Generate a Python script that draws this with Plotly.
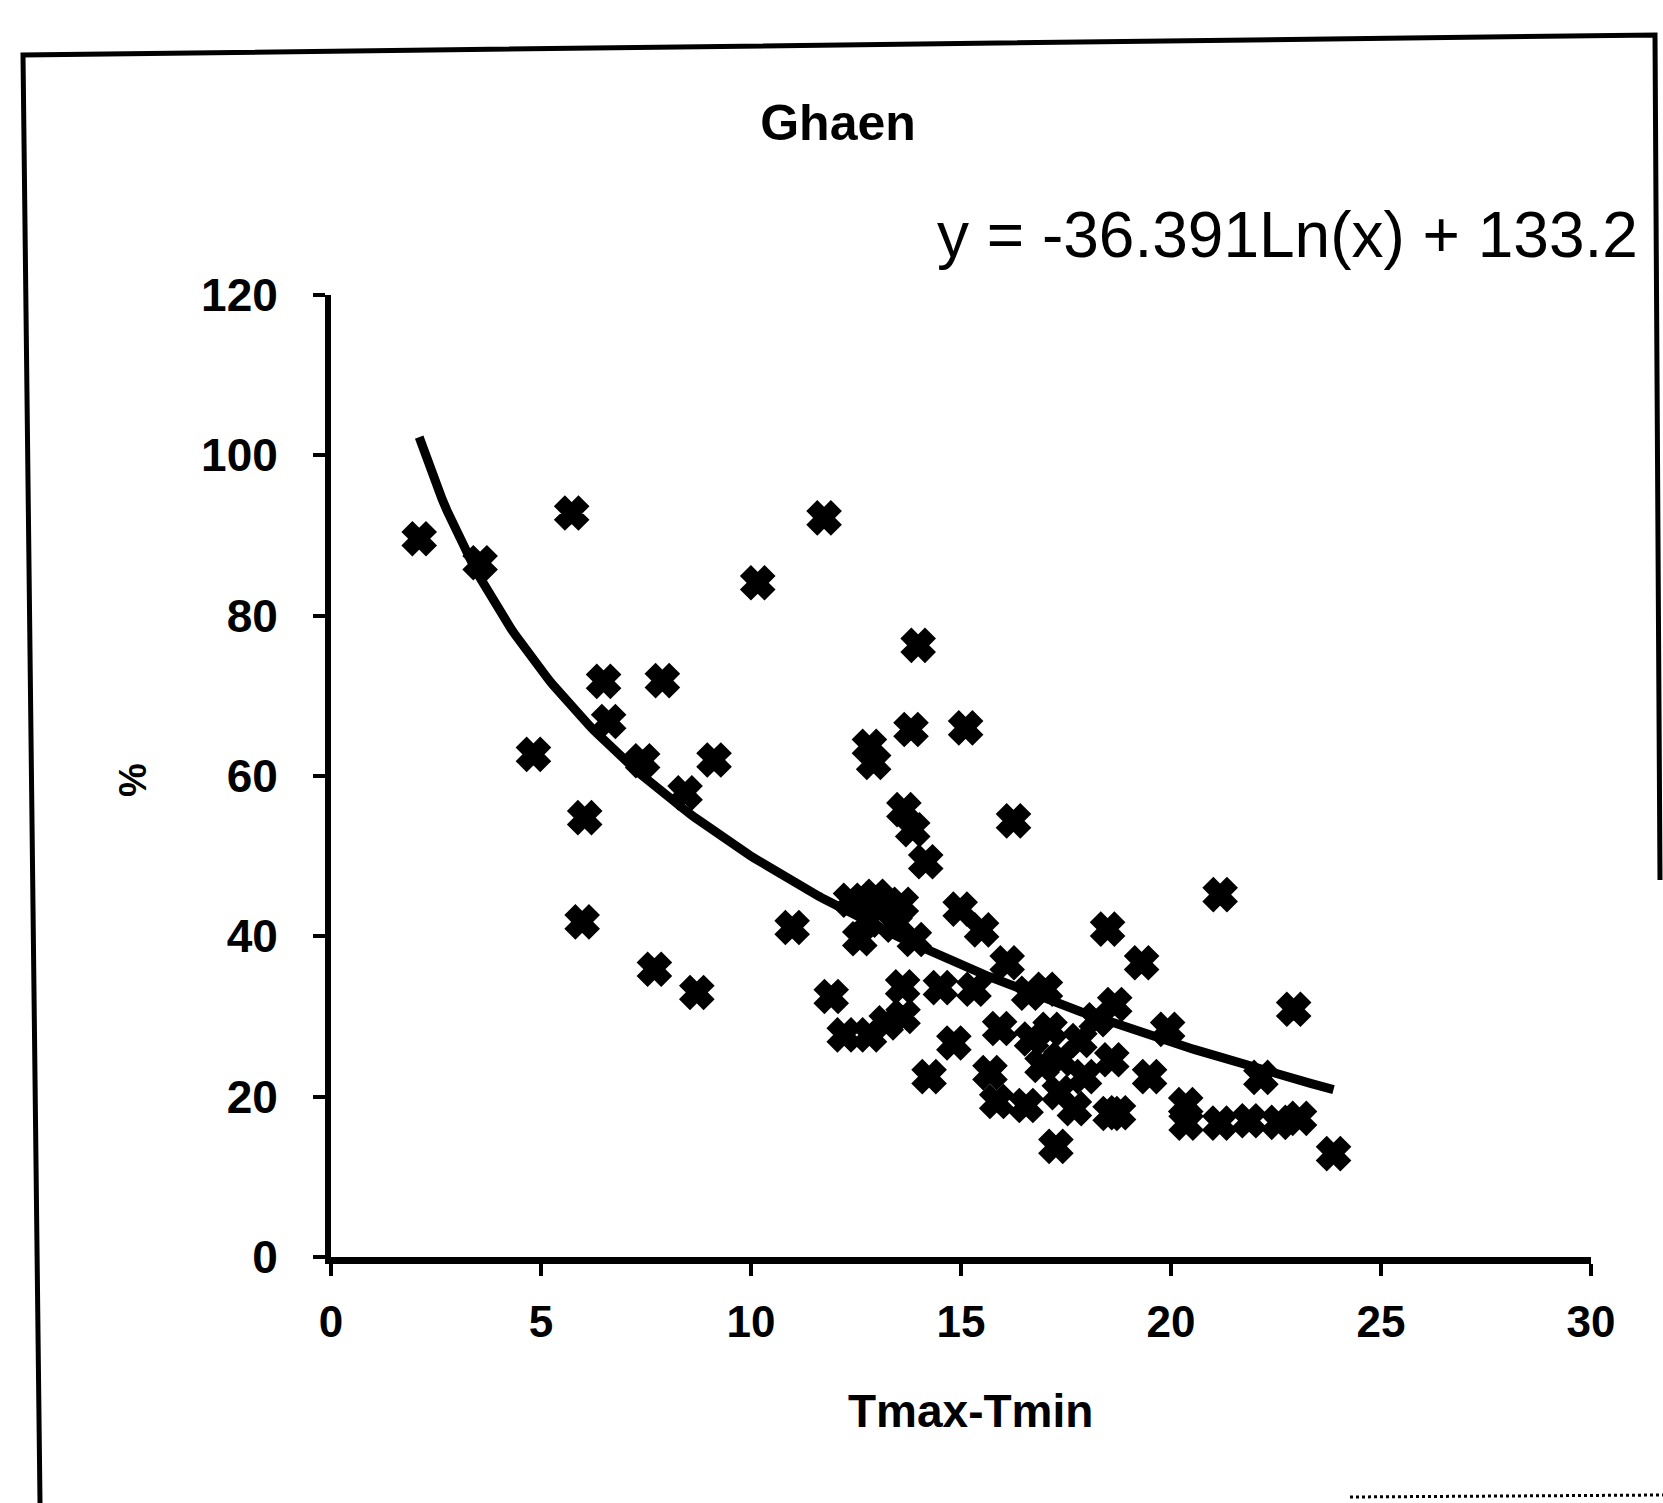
import numpy as np
import plotly.graph_objects as go

# ---- data ----
x_vals = [2.1, 3.55, 5.73, 11.74, 10.16, 13.98, 6.49, 7.89, 6.61, 4.82, 7.42, 9.12, 8.43, 6.04, 5.98,
          12.82, 12.92, 13.81, 15.11, 13.64, 13.85, 14.16, 16.25, 21.17, 10.98, 7.7, 8.71, 11.91,
          12.37, 12.97, 13.58, 12.78, 13.43, 13.89, 12.59, 14.98, 15.49, 18.49, 19.3, 16.1, 22.92,
          13.61, 13.62, 14.51, 15.31, 16.61, 17.01,
          12.22, 12.82, 13.22,
          14.24, 14.83, 15.69, 15.85, 16.55,
          18.66, 19.92, 20.35, 20.36, 21.16, 21.86, 22.56, 23.06, 22.14, 23.87,
          18.59, 18.75, 19.49, 17.12, 17.83, 17.38, 16.68, 15.92, 17.26, 17.7, 18.55, 17.34,
          18.22, 17.94, 16.93]
y_vals = [89.6, 86.6, 92.8, 92.2, 84.1, 76.3, 71.8, 71.9, 66.8, 62.7, 61.9, 62.0, 57.9, 54.8, 41.8,
          63.7, 61.7, 65.8, 66.0, 55.8, 53.3, 49.3, 54.4, 45.2, 41.1, 35.9, 33.0, 32.5,
          44.5, 45.0, 44.0, 42.0, 41.4, 39.6, 39.7, 43.4, 40.8, 40.9, 36.7, 36.7, 30.9,
          33.7, 30.0, 33.6, 33.4, 32.9, 33.4,
          27.7, 27.7, 29.2,
          22.5, 26.7, 23.0, 19.4, 18.9,
          31.5, 28.4, 19.0, 16.7, 16.7, 17.0, 16.8, 17.3, 22.4, 12.9,
          24.6, 18.0, 22.5, 28.4, 27.0, 24.7, 27.2, 28.5, 13.8, 18.5, 17.9, 20.5,
          29.6, 22.5, 23.9]

title_text = "Ghaen"
equation_text = "y = -36.391Ln(x) + 133.2"
x_title = "Tmax-Tmin"
y_title = "%"
x_ticks = [0, 5, 10, 15, 20, 25, 30]
y_ticks = [0, 20, 40, 60, 80, 100, 120]

W, H = 1663, 1503
L, R, T, B = 331, 72, 295, 246
PW, PH = W - L - R, H - T - B


def px(xp):
    return (xp - L) / PW


def py(yp):
    return (H - B - yp) / PH


# logarithmic trend line: least-squares fit of y on ln(x), as the spreadsheet does
xa = np.array(x_vals)
ya = np.array(y_vals)
slope, intercept = np.polyfit(np.log(xa), ya, 1)
tx = np.linspace(xa.min(), xa.max(), 200)
ty = slope * np.log(tx) + intercept

fig = go.Figure()
fig.add_trace(go.Scatter(x=tx, y=ty, mode="lines",
                         line=dict(color="black", width=9), hoverinfo="skip"))
fig.add_trace(go.Scatter(x=x_vals, y=y_vals, mode="markers",
                         marker=dict(symbol="x", size=24, color="black",
                                     line=dict(color="black", width=6))))

font_fam = "Liberation Sans, Arial, sans-serif"

fig.update_layout(
    width=W, height=H,
    margin=dict(l=L, r=R, t=T, b=B),
    paper_bgcolor="white", plot_bgcolor="white",
    showlegend=False,
    font=dict(family=font_fam, color="black"),
    title=dict(text=title_text, x=838 / W, y=1 - 122 / H, xref="container", yref="container",
               xanchor="center", yanchor="middle",
               font=dict(size=50, weight="bold", color="black", family=font_fam)),
    xaxis=dict(range=[0, 30], tickvals=x_ticks, showgrid=False, zeroline=False,
               showline=True, linewidth=7, linecolor="black",
               ticks="outside", ticklen=12, tickwidth=4, tickcolor="black",
               ticklabelstandoff=8,
               tickfont=dict(size=44, weight="bold", color="black", family=font_fam)),
    yaxis=dict(range=[0, 120], tickvals=y_ticks, showgrid=False, zeroline=False,
               showline=True, linewidth=6, linecolor="black",
               ticks="outside", ticklen=12, tickwidth=4, tickcolor="black",
               ticklabelstandoff=26,
               tickfont=dict(size=46, weight="bold", color="black", family=font_fam)),
)

fig.add_annotation(text=equation_text, xref="paper", yref="paper",
                   x=px(1640), y=py(235), xanchor="right", yanchor="middle",
                   showarrow=False, font=dict(size=64, color="black", family=font_fam))
fig.add_annotation(text=x_title, xref="paper", yref="paper",
                   x=px(970), y=py(1411), xanchor="center", yanchor="middle",
                   showarrow=False, font=dict(size=46, weight="bold", color="black", family=font_fam))
fig.add_annotation(text=y_title, xref="paper", yref="paper",
                   x=px(133), y=py(780), xanchor="center", yanchor="middle", textangle=-90,
                   showarrow=False, font=dict(size=38, weight="bold", color="black", family=font_fam))

# outer chart border
border = (f"M {px(40)},{py(1503)} L {px(23)},{py(55)} L {px(1655)},{py(35)} "
          f"L {px(1660)},{py(880)}")
fig.add_shape(type="path", path=border, xref="paper", yref="paper",
              line=dict(color="black", width=5))
fig.add_shape(type="line", xref="paper", yref="paper",
              x0=px(1350), y0=py(1497), x1=px(1663), y1=py(1495),
              line=dict(color="black", width=3, dash="dot"))

fig.write_html("out.html")
